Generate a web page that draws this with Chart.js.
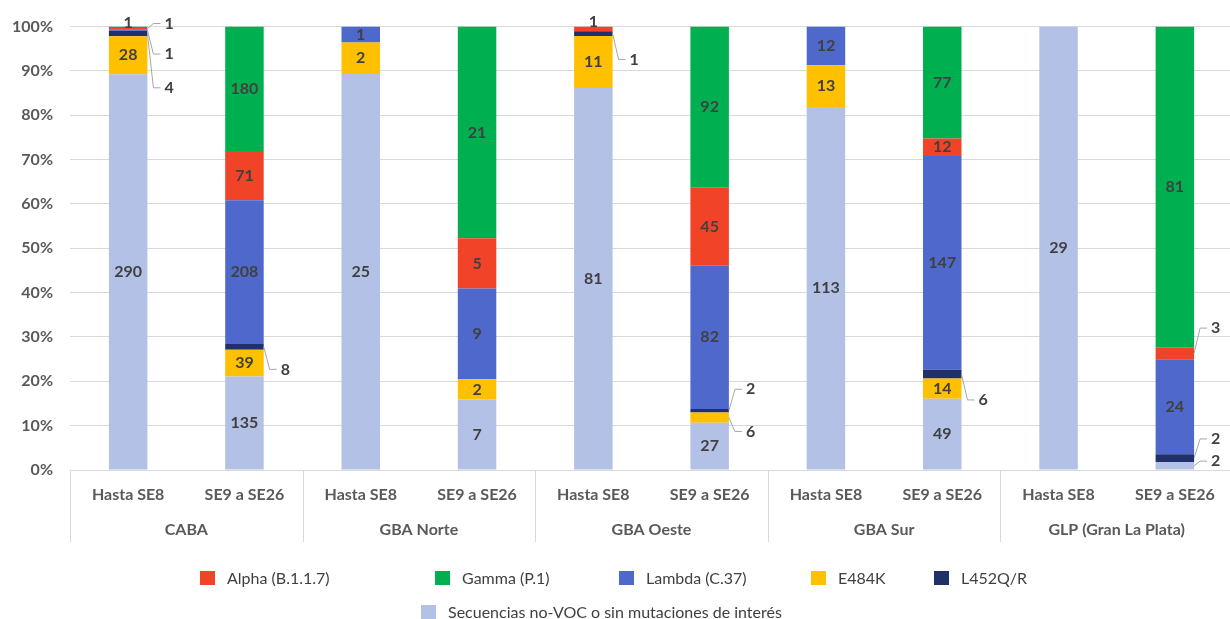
<!DOCTYPE html>
<html>
<head>
<meta charset="utf-8">
<title>Variantes por región</title>
<script src="https://cdn.jsdelivr.net/npm/chart.js@4.4.0/dist/chart.umd.min.js"></script>
<style>
    html, body { margin: 0; padding: 0; background: #fff; overflow: hidden; width: 1230px; height: 619px; }
    #wrap { position: relative; width: 1240px; height: 550px; }
    #legend { position: absolute; left: 0; top: 0; width: 1230px; height: 619px; pointer-events: none; }
    .item { position: absolute; font: 16px Lato, sans-serif; color: #404040; white-space: nowrap; line-height: 20px; }
    .item span.box { position: absolute; left: 0; top: 3px; width: 15px; height: 14px; }
    .item span.txt { position: absolute; left: 27px; top: 0; }
</style>
</head>
<body>
<div id="wrap"><canvas id="chart"></canvas></div>
<div id="legend"></div>
<script>
// categorías (dos niveles)
const groups = ['CABA', 'GBA Norte', 'GBA Oeste', 'GBA Sur', 'GLP (Gran La Plata)'];
const periods = ['Hasta SE8', 'SE9 a SE26'];
const categories = groups.flatMap(() => periods);

// cantidades de secuencias por barra
const noVoc = [290, 135, 25, 7, 81, 27, 113, 49, 29, 2];
const e484k = [28, 39, 2, 2, 11, 6, 13, 14, 0, 0];
const l452  = [4, 8, 0, 0, 1, 2, 0, 6, 0, 2];
const lambda = [1, 208, 1, 9, 0, 82, 12, 147, 0, 24];
const alpha = [1, 71, 0, 5, 1, 45, 0, 12, 0, 3];
const gamma = [1, 180, 0, 21, 0, 92, 0, 77, 0, 81];

const yTicks = [0, 10, 20, 30, 40, 50, 60, 70, 80, 90, 100];

// series en orden de apilado (de abajo hacia arriba)
const series = [
    { key: 'noVoc', label: 'Secuencias no-VOC o sin mutaciones de interés', counts: noVoc, color: '#B4C1E7' },
    { key: 'e484k', label: 'E484K', counts: e484k, color: '#FFC000' },
    { key: 'l452', label: 'L452Q/R', counts: l452, color: '#203069' },
    { key: 'lambda', label: 'Lambda (C.37)', counts: lambda, color: '#4F68CB' },
    { key: 'alpha', label: 'Alpha (B.1.1.7)', counts: alpha, color: '#F14327' },
    { key: 'gamma', label: 'Gamma (P.1)', counts: gamma, color: '#00B050' }
];

// etiquetas con línea guía (at = altura de la etiqueta en %)
const callouts = [
    { bar: 0, key: 'gamma', at: 100.9, leader: false },
    { bar: 0, key: 'alpha', at: 100.7 },
    { bar: 0, key: 'lambda', at: 93.8 },
    { bar: 0, key: 'l452', at: 86.2 },
    { bar: 1, key: 'l452', at: 22.7 },
    { bar: 4, key: 'alpha', at: 101, leader: false },
    { bar: 4, key: 'l452', at: 92.6 },
    { bar: 5, key: 'l452', at: 18.2 },
    { bar: 5, key: 'e484k', at: 8.7 },
    { bar: 7, key: 'l452', at: 15.8 },
    { bar: 9, key: 'alpha', at: 32 },
    { bar: 9, key: 'l452', at: 7 },
    { bar: 9, key: 'noVoc', at: 2 }
];

const legendOrder = ['alpha', 'gamma', 'lambda', 'e484k', 'l452', 'noVoc'];
const legendSlots = [[200, 568], [435, 568], [619, 568], [811, 568], [934, 568], [421, 602]];

const totals = categories.map((_, i) => series.reduce((s, d) => s + d.counts[i], 0));

const labelColor = '#404040';
const axisColor = '#595959';
const gridColor = '#D9D9D9';

// 🏷️ etiquetas de valores
const segmentLabels = {
    id: 'segmentLabels',
    afterDatasetsDraw(chart) {
        const ctx = chart.ctx;
        const yScale = chart.scales.y;
        ctx.save();
        ctx.font = 'bold 16px Lato';
        ctx.fillStyle = labelColor;
        ctx.textBaseline = 'middle';
        ctx.strokeStyle = '#A6A6A6';
        ctx.lineWidth = 1;
        chart.data.datasets.forEach((ds, di) => {
            const meta = chart.getDatasetMeta(di);
            meta.data.forEach((bar, bi) => {
                const count = ds.counts[bi];
                if (!count) return;
                const p = bar.getProps(['x', 'y', 'base', 'width'], true);
                const cy = (p.y + p.base) / 2;
                const co = callouts.find(c => c.bar === bi && c.key === ds.key);
                if (!co) {
                    ctx.textAlign = 'center';
                    ctx.fillText(count, p.x, cy);
                    return;
                }
                const ly = yScale.getPixelForValue(co.at);
                if (co.leader === false) {
                    ctx.textAlign = 'center';
                    ctx.fillText(count, p.x, ly);
                    return;
                }
                const r = p.x + p.width / 2;
                ctx.beginPath();
                ctx.moveTo(r, cy);
                ctx.lineTo(r + 6, ly);
                ctx.lineTo(r + 13, ly);
                ctx.stroke();
                ctx.textAlign = 'left';
                ctx.fillText(count, r + 17, ly);
            });
        });
        ctx.restore();
    }
};

// 📐 eje de grupos con separadores
const groupAxis = {
    id: 'groupAxis',
    afterDraw(chart) {
        const ctx = chart.ctx;
        const x = chart.scales.x;
        const bottom = chart.chartArea.bottom;
        const step = (x.right - x.left) / categories.length;
        const per = periods.length;
        ctx.save();
        ctx.strokeStyle = gridColor;
        ctx.lineWidth = 1;
        for (let g = 0; g <= groups.length; g++) {
            const px = Math.round(x.left + g * per * step) + 0.5;
            ctx.beginPath();
            ctx.moveTo(px, bottom);
            ctx.lineTo(px, bottom + 72);
            ctx.stroke();
        }
        ctx.font = 'bold 16px Lato';
        ctx.fillStyle = axisColor;
        ctx.textAlign = 'center';
        ctx.textBaseline = 'middle';
        groups.forEach((g, i) => {
            ctx.fillText(g, x.left + (i + 0.5) * per * step, bottom + 60);
        });
        ctx.restore();
    }
};

const chart = new Chart(document.getElementById('chart'), {
    type: 'bar',
    data: {
        labels: categories,
        datasets: series.map(s => ({
            key: s.key,
            label: s.label,
            counts: s.counts,
            data: s.counts.map((c, i) => c / totals[i] * 100),
            backgroundColor: s.color,
            borderWidth: 0,
            barPercentage: 0.331,
            categoryPercentage: 1
        }))
    },
    options: {
        responsive: true,
        maintainAspectRatio: false,
        animation: false,
        layout: { padding: { left: 0, right: 7, top: 20, bottom: 0 } },
        plugins: {
            legend: { display: false },
            tooltip: { enabled: false }
        },
        scales: {
            x: {
                stacked: true,
                grid: { display: false, drawTicks: false },
                border: { display: false },
                ticks: {
                    autoSkip: false,
                    maxRotation: 0,
                    padding: 15,
                    color: axisColor,
                    font: { family: 'Lato', size: 16, weight: 'bold' }
                },
                afterFit(scale) { scale.height = 80; }
            },
            y: {
                stacked: true,
                min: 0,
                max: 100,
                afterBuildTicks(scale) { scale.ticks = yTicks.map(v => ({ value: v })); },
                grid: { color: gridColor, lineWidth: 1, drawTicks: false },
                border: { display: false },
                ticks: {
                    padding: 17,
                    color: axisColor,
                    font: { family: 'Lato', size: 16, weight: 'bold' },
                    callback: v => v + '%'
                },
                afterFit(scale) { scale.width = 70; }
            }
        }
    },
    plugins: [segmentLabels, groupAxis]
});

// 📋 leyenda
const legend = document.getElementById('legend');
legendOrder.forEach((key, i) => {
    const s = series.find(d => d.key === key);
    const el = document.createElement('div');
    el.className = 'item';
    el.style.left = legendSlots[i][0] + 'px';
    el.style.top = legendSlots[i][1] + 'px';
    el.innerHTML = `<span class="box" style="background:${s.color}"></span><span class="txt">${s.label}</span>`;
    legend.appendChild(el);
});
</script>
</body>
</html>
